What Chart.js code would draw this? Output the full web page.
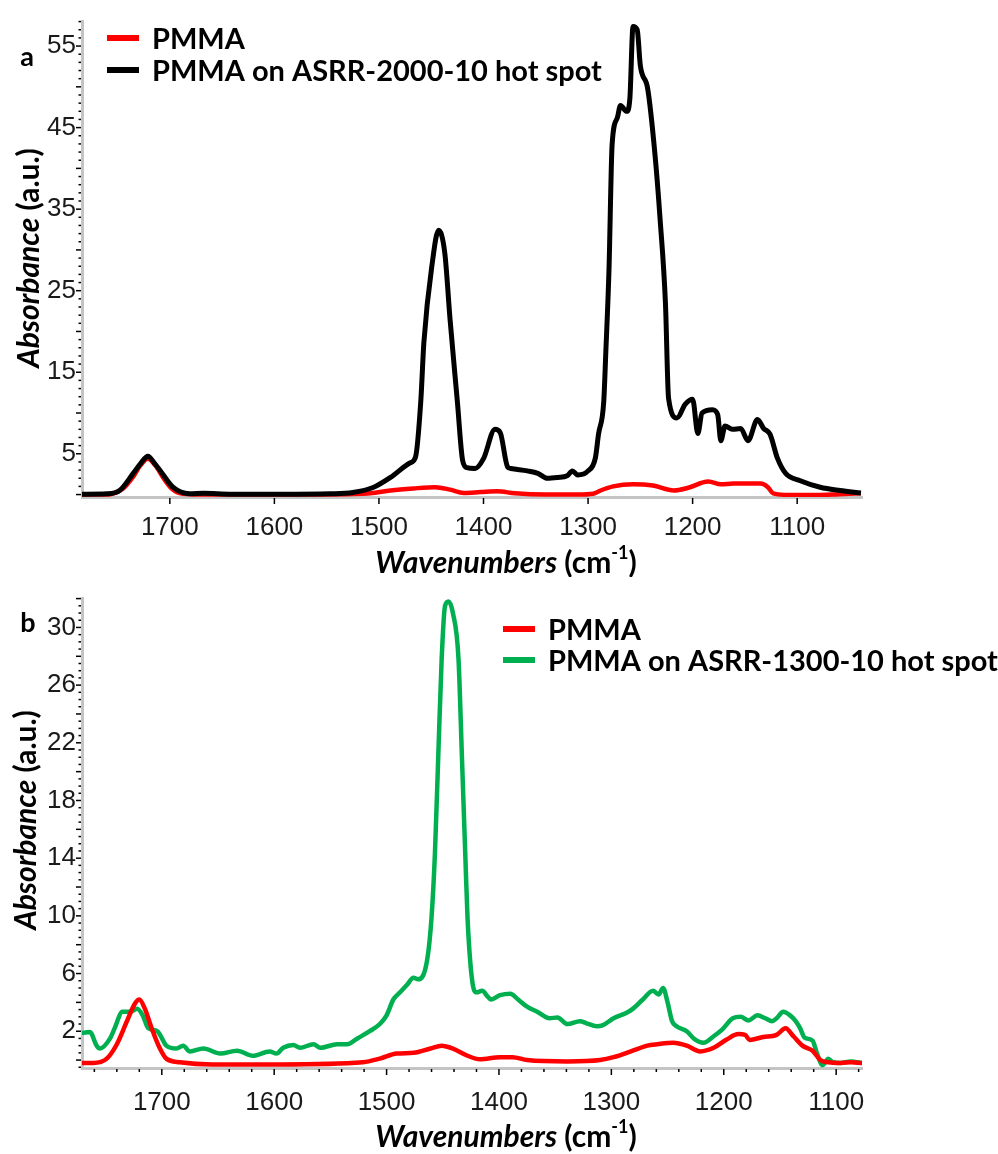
<!DOCTYPE html>
<html>
<head>
<meta charset="utf-8">
<script src="https://cdn.jsdelivr.net/npm/chart.js@4.4.0/dist/chart.umd.min.js"></script>
<style>
html, body { margin: 0; padding: 0; background: #fff; }
.panel { position: relative; width: 998px; height: 577px; }
</style>
</head>
<body>
<div class="panel"><canvas id="chartA"></canvas></div>
<div class="panel"><canvas id="chartB"></canvas></div>
<script>
// ---- panel a : PMMA vs PMMA on ASRR-2000-10 hot spot ----
var wnA_pmma = [1784,1765,1755,1745,1735,1728,1721,1714,1706,1698,1688,1670,1640,1600,1560,1530,1508,1489,1467,1446,1432,1419,1403,1387,1370,1340,1310,1295,1288,1276,1257,1238,1218,1205,1185,1173,1161,1135,1128,1123,1106,1081,1060,1039];
var absA_pmma = [0.0,0.0,0.1,0.7,2.2,3.6,4.4,3.6,2.0,0.7,0.1,0.0,0.0,0.0,0.0,0.05,0.15,0.5,0.75,0.9,0.6,0.2,0.3,0.4,0.15,0.0,0.0,0.1,0.5,1.0,1.25,1.1,0.5,0.8,1.6,1.25,1.35,1.35,0.9,0.15,-0.05,-0.05,0.05,0.15];

var wnA_hot = [1784,1760,1748,1735,1728,1721,1715,1709,1697,1681,1668,1641,1594,1547,1525,1505,1489,1470,1465,1460,1457,1449,1443,1437,1432,1425,1420,1416,1408,1400,1389,1384,1377,1374,1358,1348,1339,1329,1320,1315,1310,1300,1293,1290,1285,1283,1280,1277,1272,1269,1263,1260,1257,1253,1250,1243,1236,1231,1226,1223,1215,1207,1200,1195,1191,1181,1176,1173,1169,1162,1154,1147,1138,1132,1126,1119,1111,1097,1078,1059,1039];
var absA_hot = [0.05,0.1,0.5,2.6,3.8,4.7,3.9,2.9,0.9,0.1,0.15,0.05,0.05,0.1,0.25,0.9,2.1,3.9,4.6,11.4,18.7,28.4,32.4,29.6,21.5,11.4,4.2,3.3,3.2,4.4,8.0,7.6,3.4,3.2,2.9,2.6,2.0,2.1,2.3,2.9,2.4,2.9,4.5,7.4,11.4,17.5,27.5,42.9,46.2,47.7,47.0,48.6,57.4,57.0,52.6,49.8,41.7,33.6,23.5,11.8,9.4,11.1,11.7,7.5,10.0,10.4,9.8,6.6,8.4,8.0,8.1,6.6,9.2,8.1,7.4,4.5,2.6,1.7,0.9,0.5,0.2];

// ---- panel b : PMMA vs PMMA on ASRR-1300-10 hot spot ----
var wnB_pmma = [1771,1761,1749,1740,1731,1724,1720,1715,1709,1702,1696,1684,1655,1595,1521,1506,1491,1476,1461,1451,1441,1428,1417,1399,1388,1375,1339,1310,1298,1281,1268,1259,1245,1233,1221,1209,1197,1187,1181,1177,1165,1153,1145,1138,1130,1121,1114,1107,1096,1087,1077];
var absB_pmma = [-0.2,-0.2,0.1,1.1,2.7,3.9,4.2,3.55,2.2,0.85,0.1,-0.15,-0.3,-0.3,-0.15,0.1,0.45,0.5,0.8,1.0,0.8,0.3,0.05,0.2,0.2,0.0,-0.1,0.0,0.2,0.65,1.0,1.1,1.2,1.0,0.6,0.85,1.45,1.8,1.75,1.4,1.6,1.75,2.2,1.65,1.0,0.65,0.0,-0.15,-0.2,-0.15,-0.2];

var wnB_hot = [1771,1769,1764,1758,1755,1746,1742,1735,1728,1722,1717,1712,1704,1696,1687,1681,1675,1663,1648,1633,1619,1604,1598,1592,1583,1577,1565,1559,1544,1535,1526,1515,1506,1500,1494,1488,1482,1476,1472,1464,1460,1457,1454,1451,1448,1445,1441,1436,1433,1430,1428,1424,1420,1415,1410,1407,1399,1390,1383,1375,1366,1355,1348,1339,1328,1322,1313,1308,1298,1286,1281,1272,1263,1258,1254,1250,1246,1242,1233,1226,1218,1209,1201,1192,1185,1178,1170,1163,1157,1153,1147,1141,1136,1132,1128,1121,1117,1112,1107,1103,1096,1087,1077];
var absB_hot = [1.9,1.9,1.95,1.0,0.8,1.5,2.2,3.35,3.35,3.55,3.1,2.2,2.0,1.0,0.8,1.0,0.6,0.8,0.45,0.65,0.3,0.6,0.45,0.85,1.05,0.85,1.1,0.85,1.1,1.1,1.5,2.0,2.5,3.1,4.2,4.7,5.2,5.7,5.6,6.9,9.9,14.3,21.1,27.8,31.5,31.8,31.0,27.8,21.1,14.3,9.9,5.6,4.7,4.8,4.4,4.2,4.5,4.6,4.2,3.7,3.35,2.9,2.95,2.5,2.7,2.55,2.35,2.4,2.9,3.3,3.55,4.2,4.8,4.55,5.0,4.0,2.7,2.35,2.0,1.45,1.2,1.65,2.15,2.9,3.0,2.75,3.1,2.9,2.7,2.9,3.35,3.1,2.7,2.2,1.55,1.35,0.45,-0.35,0.1,-0.15,-0.2,-0.1,-0.2];

var xTicks = [1700, 1600, 1500, 1400, 1300, 1200, 1100];
var yTicksA = [5, 15, 25, 35, 45, 55];
var yTicksB = [2, 6, 10, 14, 18, 22, 26, 30];

var labelsA = ['PMMA', 'PMMA on ASRR-2000-10 hot spot'];
var labelsB = ['PMMA', 'PMMA on ASRR-1300-10 hot spot'];

function pts(xs, ys) {
  return xs.map(function (x, i) { return { x: x, y: ys[i] }; });
}

var TEXT_FONT = 'Lato';
var TICK_FONT = "'Liberation Sans', Arial, sans-serif";

// draws text made of several styled pieces, centred on (cx, cy)
function drawRich(ctx, parts, cx, cy, rot) {
  ctx.save();
  ctx.translate(cx, cy);
  if (rot) ctx.rotate(rot);
  ctx.textBaseline = 'middle';
  ctx.textAlign = 'left';
  var w = 0;
  parts.forEach(function (p) { ctx.font = p.f; w += ctx.measureText(p.t).width; });
  var x = -w / 2;
  parts.forEach(function (p) {
    ctx.font = p.f;
    ctx.fillStyle = '#000';
    ctx.fillText(p.t, x, p.dy || 0);
    x += ctx.measureText(p.t).width;
  });
  ctx.restore();
}

var decor = {
  id: 'decor',
  afterDraw: function (chart, args, o) {
    var ctx = chart.ctx;
    var xs = chart.scales.x, ys = chart.scales.y;
    var area = chart.chartArea;
    ctx.save();
    ctx.strokeStyle = '#000';
    ctx.lineWidth = 1.5;
    // x tick marks
    var v;
    for (v = Math.ceil(xs.min / o.xMinor) * o.xMinor; v <= xs.max; v += o.xMinor) {
      var px = xs.getPixelForValue(v);
      var len = (v % 100 === 0) ? 6 : 3;
      ctx.beginPath(); ctx.moveTo(px, area.bottom + 1); ctx.lineTo(px, area.bottom + 1 + len); ctx.stroke();
    }
    // y tick marks
    for (v = Math.ceil(ys.min / o.yMinor) * o.yMinor; v <= ys.max + 1e-6; v += o.yMinor) {
      var py = ys.getPixelForValue(v);
      var r = Math.round(v * 100) / 100;
      var l = (r % o.yMid === 0) ? 5 : 2.5;
      ctx.beginPath(); ctx.moveTo(area.left - 1, py); ctx.lineTo(area.left - 1 - l, py); ctx.stroke();
    }
    ctx.restore();

    // legend inside the plot
    ctx.save();
    chart.data.datasets.forEach(function (ds, i) {
      var y = o.legendY + i * o.legendRow;
      ctx.strokeStyle = ds.borderColor;
      ctx.lineWidth = 6;
      ctx.beginPath(); ctx.moveTo(o.legendX, y); ctx.lineTo(o.legendX + 32, y); ctx.stroke();
      ctx.fillStyle = '#000';
      ctx.font = 'bold 29px ' + TEXT_FONT;
      ctx.textBaseline = 'middle';
      ctx.textAlign = 'left';
      ctx.fillText(ds.label, o.legendX + 45, y + 2);
    });
    ctx.restore();

    // panel letter
    ctx.save();
    ctx.font = 'bold 27px ' + TEXT_FONT;
    ctx.fillStyle = '#000';
    ctx.textAlign = 'center';
    ctx.textBaseline = 'middle';
    ctx.fillText(o.letter, o.letterX, o.letterY);
    ctx.restore();

    // axis titles
    var big = 'bold 30px ' + TEXT_FONT;
    drawRich(ctx, [
      { t: 'Wavenumbers', f: 'italic ' + big },
      { t: ' (cm', f: big },
      { t: '-1', f: 'bold 18px ' + TEXT_FONT, dy: -10 },
      { t: ')', f: big }
    ], o.xTitleX, o.xTitleY, 0);
    drawRich(ctx, [
      { t: 'Absorbance', f: 'italic ' + big },
      { t: ' (a.u.)', f: big }
    ], o.yTitleX, o.yTitleY, -Math.PI / 2);
  }
};

function plain(v) { return String(v); }

function makeChart(id, sets, xr, yr, yTicks, tickPadX, xAxisH, padTop, deco) {
  return new Chart(document.getElementById(id), {
    type: 'scatter',
    data: { datasets: sets },
    options: {
      responsive: true,
      maintainAspectRatio: false,
      animation: false,
      layout: { padding: { top: padTop, right: 136, left: 0, bottom: 0 } },
      elements: { point: { radius: 0 } },
      plugins: {
        legend: { display: false },
        tooltip: { enabled: false },
        decor: deco
      },
      scales: {
        x: {
          type: 'linear',
          reverse: true,
          min: xr[0],
          max: xr[1],
          afterBuildTicks: function (s) { s.ticks = xTicks.map(function (v) { return { value: v }; }); },
          afterFit: function (s) { s.height = xAxisH; },
          grid: { display: false, drawTicks: false },
          border: { display: true, color: '#c4c4c4', width: 3 },
          ticks: {
            padding: tickPadX,
            maxRotation: 0,
            autoSkip: false,
            color: '#1a1a1a',
            callback: plain,
            font: { family: TICK_FONT, size: 26 }
          }
        },
        y: {
          min: yr[0],
          max: yr[1],
          afterBuildTicks: function (s) { s.ticks = yTicks.map(function (v) { return { value: v }; }); },
          afterFit: function (s) { s.width = 82; },
          grid: { display: false, drawTicks: false },
          border: { display: true, color: '#c4c4c4', width: 3 },
          ticks: {
            padding: 6,
            autoSkip: false,
            color: '#1a1a1a',
            callback: plain,
            font: { family: TICK_FONT, size: 26 }
          }
        }
      }
    },
    plugins: [decor]
  });
}

makeChart('chartA', [
  { label: labelsA[0], data: pts(wnA_pmma, absA_pmma), showLine: true, borderColor: '#ff0000', borderWidth: 4.5, cubicInterpolationMode: 'monotone', order: 1 },
  { label: labelsA[1], data: pts(wnA_hot, absA_hot), showLine: true, borderColor: '#000000', borderWidth: 5, cubicInterpolationMode: 'monotone', order: 0 }
], [1038, 1784], [-0.3, 58], yTicksA, 15, 80, 18, {
  xMinor: 100, yMinor: 1, yMid: 5,
  legendX: 107, legendY: 38, legendRow: 32,
  letter: 'a', letterX: 27, letterY: 57,
  xTitleX: 506, xTitleY: 563, yTitleX: 29, yTitleY: 258
});

makeChart('chartB', [
  { label: labelsB[0], data: pts(wnB_pmma, absB_pmma), showLine: true, borderColor: '#ff0000', borderWidth: 4.5, cubicInterpolationMode: 'monotone', order: 0 },
  { label: labelsB[1], data: pts(wnB_hot, absB_hot), showLine: true, borderColor: '#00b050', borderWidth: 4.5, cubicInterpolationMode: 'monotone', order: 1 }
], [1077, 1771], [-0.55, 32], yTicksB, 19, 86, 11, {
  xMinor: 20, yMinor: 0.5, yMid: 2,
  legendX: 503, legendY: 52, legendRow: 31,
  letter: 'b', letterX: 28, letterY: 46,
  xTitleX: 506, xTitleY: 560, yTitleX: 26, yTitleY: 243
});
</script>
</body>
</html>
